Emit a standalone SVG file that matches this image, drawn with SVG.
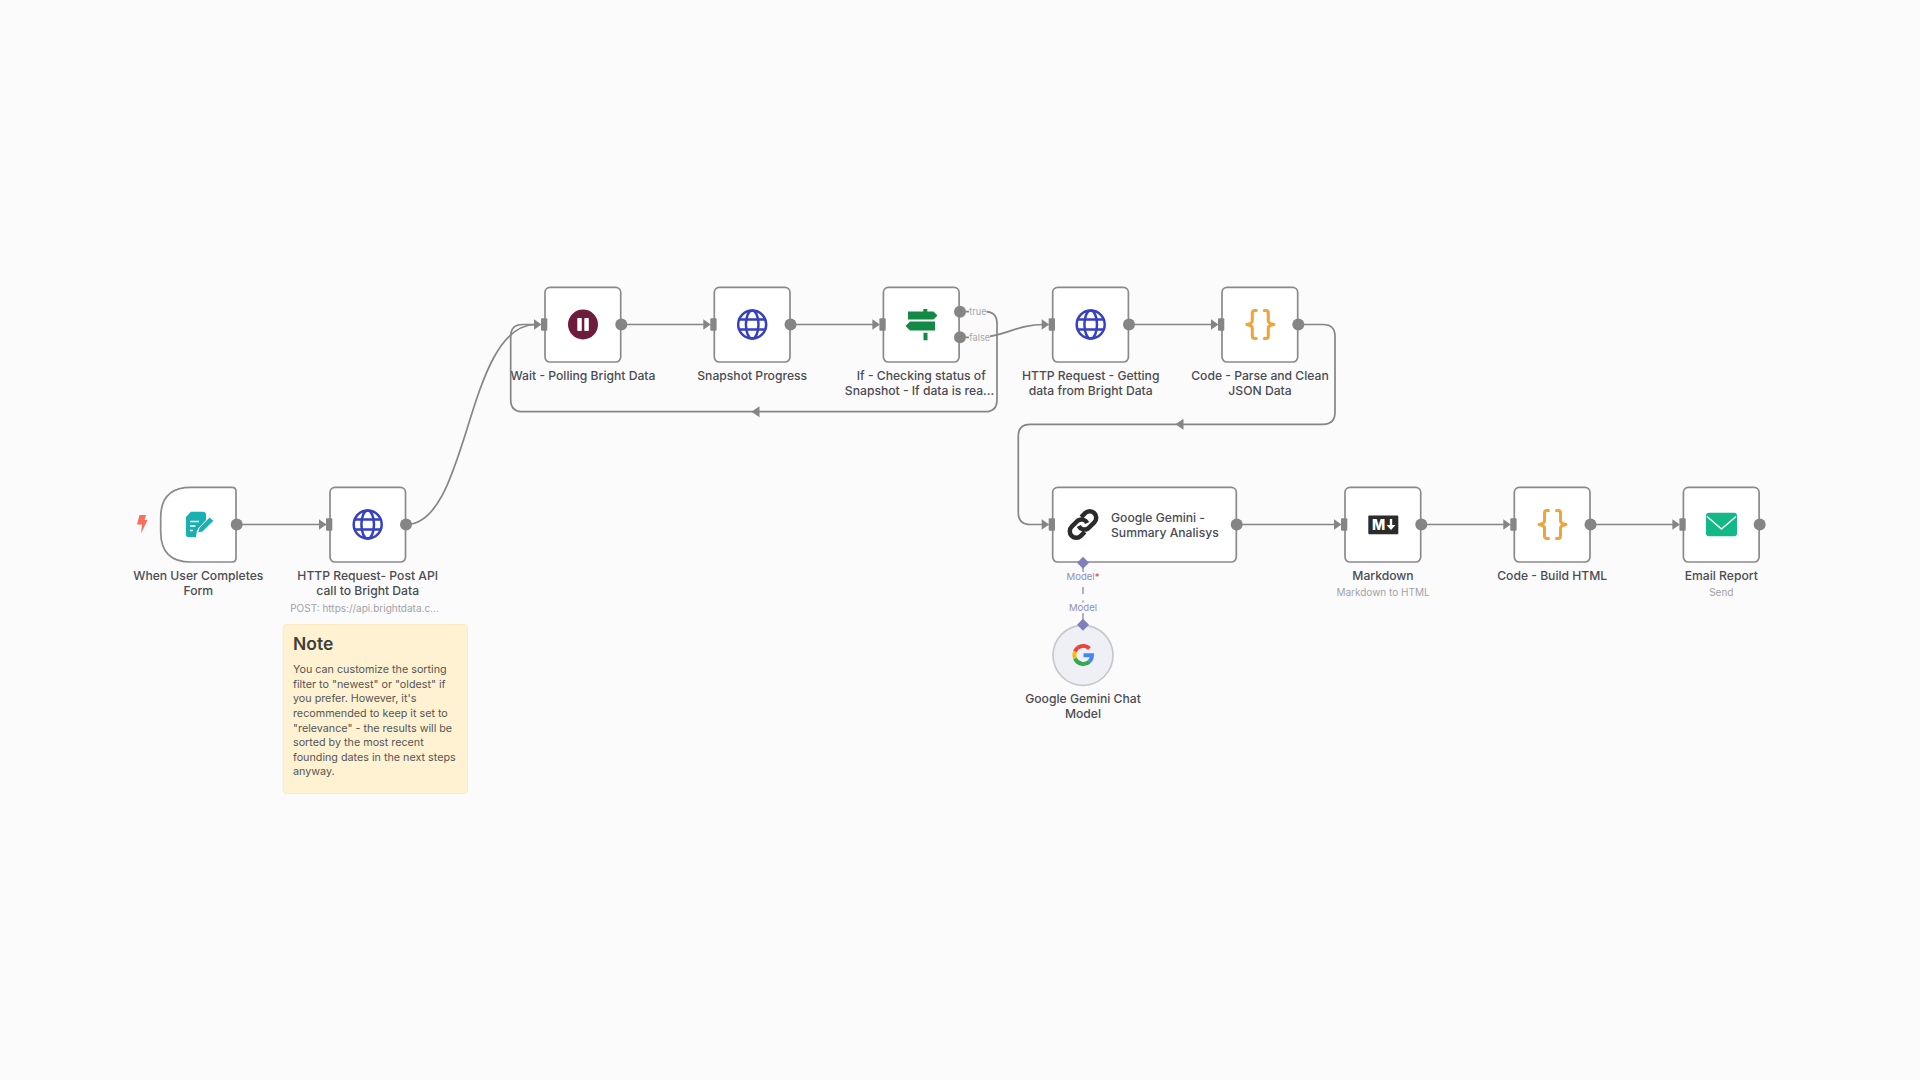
<svg xmlns="http://www.w3.org/2000/svg" xmlns:xlink="http://www.w3.org/1999/xlink" width="1920" height="1080" viewBox="0 0 1920 1080">
<style>
text{font-family:Inter,"Noto Sans","Liberation Sans",sans-serif}
.box{fill:#fff;stroke:#8a8a8a;stroke-width:1.7}
.lbl{font-size:12.15px;font-weight:500;fill:#4b4b53;text-anchor:middle}
.sub{font-size:10px;fill:#a2a2a6;text-anchor:middle}
.note{font-size:10.75px;fill:#555552}
.edge{fill:none;stroke:#858585;stroke-width:1.7}
.tip{fill:#858585}
.port{fill:#858585}
.small{font-size:9.2px;fill:#a5a5a5}
.mod{font-size:9.6px;fill:#8f8fbc;text-anchor:middle}
.globe{fill:none;stroke:#3540c2;stroke-width:2.5}
.brace{fill:none;stroke:#f0a336;stroke-width:3;stroke-linecap:round;stroke-linejoin:round}
</style>
<defs>
<g id="globe" class="globe">
<circle r="14"/><ellipse rx="6.300" ry="14"/><path d="M-13-5H13M-13 5H13"/>
</g>
<g id="braces" class="brace">
<path d="M-4-14H-5.500Q-8-14-8-11.500V-3.500Q-8-1-13.500 0Q-8 1-8 3.500V11.500Q-8 14-5.500 14H-4"/>
<path d="M4-14H5.500Q8-14 8-11.500V-3.500Q8-1 13.500 0Q8 1 8 3.500V11.500Q8 14 5.500 14H4"/>
</g>
<g id="in"><path class="tip" d="M-10.500-5.300L-3 0L-10.500 5.300Z"/><rect class="port" x="-3.500" y="-6.300" width="6.300" height="12.600" rx="1"/></g>
</defs>
<rect width="1920" height="1080" fill="#fbfbfb"/>

<g id="connectors">
<path class="edge" d="M237 524.500H326"/>
<path class="edge" d="M406 524.500C470 524.500 465 324.500 536 324.500"/>
<path class="edge" d="M621 324.500H705"/>
<path class="edge" d="M790 324.500H874"/>
<path class="edge" d="M966 311.700H985Q997 311.700 997 323.700V399.700Q997 411.700 985 411.700H522.700Q510.700 411.700 510.700 399.700V336.500Q510.700 324.500 522.700 324.500H536"/>
<path class="edge" d="M966 337.300H978C1005 337.300 1015 324.500 1044 324.500"/>
<path class="edge" d="M1129 324.500H1213"/>
<path class="edge" d="M1298 324.500H1323Q1335 324.500 1335 336.500V412.300Q1335 424.300 1323 424.300H1030.300Q1018.300 424.300 1018.300 436.300V512.500Q1018.300 524.500 1030.300 524.500H1044"/>
<path class="edge" d="M1237 524.500H1336"/>
<path class="edge" d="M1421 524.500H1505"/>
<path class="edge" d="M1590 524.500H1674"/>
<path class="tip" d="M751.500 411.700L759.500 406.200V417.200Z"/>
<path class="tip" d="M1175.500 424.300L1183.500 418.800V429.800Z"/>
<path d="M1083 566V572M1083 587V594M1083 600.500V602.500M1083 613V620" fill="none" stroke="#8f8fbc" stroke-width="1.400"/>
</g>

<g id="trigger-bolt"><path d="M141 515.500H147.500L146 520.500H149L142.500 534L143.500 525H138.500Z" fill="#fb6e5c" transform="translate(-1.500 -.5)"/></g>

<g id="node-form">
<path class="box" d="M191 487.300H232Q236 487.300 236 491.300V558Q236 562 232 562H191Q160.700 562 160.700 531.700V517.600Q160.700 487.300 191 487.300Z"/>
<path d="M191 511.700H203Q206 511.700 206 514.700V521L197 530.500L196 537H188Q186 537 186 535V517Z" fill="#17b1b4"/>
<path d="M190 521.500H199M190 526H195.500M190 530.500H193" stroke="#fff" stroke-width="1.500" fill="none"/>
<path d="M197.500 533L199 528L209.500 517L213.800 520.800L202.500 532Z" fill="#17b1b4" stroke="#fff" stroke-width="1"/>
<circle class="port" cx="236.700" cy="524.500" r="6"/>
<text class="lbl" x="198.300" y="580">When User Completes</text>
<text class="lbl" x="198.300" y="595">Form</text>
</g>

<g id="node-http-post">
<rect class="box" x="330" y="487.300" width="75.500" height="74.700" rx="5"/>
<use xlink:href="#in" href="#in" x="329.500" y="524.500"/>
<use xlink:href="#globe" href="#globe" x="367.700" y="524.500"/>
<circle class="port" cx="406" cy="524.500" r="6"/>
<text class="lbl" x="367.700" y="580">HTTP Request- Post API</text>
<text class="lbl" x="367.700" y="595">call to Bright Data</text>
<text class="sub" x="364.500" y="612">POST: https://api.brightdata.c...</text>
</g>

<g id="note">
<rect x="283.200" y="624.500" width="184.300" height="169" rx="3" fill="#fef2d3" stroke="#fbeac3" stroke-width="1"/>
<text x="293" y="649.500" font-size="17.500" font-weight="600" fill="#3f3f3c">Note</text>
<text class="note" x="293" y="673">You can customize the sorting</text>
<text class="note" x="293" y="687.700">filter to "newest" or "oldest" if</text>
<text class="note" x="293" y="702.300">you prefer. However, it's</text>
<text class="note" x="293" y="717">recommended to keep it set to</text>
<text class="note" x="293" y="731.700">"relevance" - the results will be</text>
<text class="note" x="293" y="746.300">sorted by the most recent</text>
<text class="note" x="293" y="761">founding dates in the next steps</text>
<text class="note" x="293" y="775">anyway.</text>
</g>

<g id="node-wait">
<rect class="box" x="545" y="287.300" width="75.700" height="74.700" rx="5"/>
<use xlink:href="#in" href="#in" x="544.500" y="324.500"/>
<circle cx="583" cy="324.500" r="15" fill="#6e1c3e"/>
<rect x="577.300" y="318" width="4.500" height="13" rx=".8" fill="#fff"/>
<rect x="584.300" y="318" width="4.500" height="13" rx=".8" fill="#fff"/>
<circle class="port" cx="621.300" cy="324.500" r="6"/>
<text class="lbl" x="583" y="380">Wait - Polling Bright Data</text>
</g>

<g id="node-snapshot">
<rect class="box" x="714.300" y="287.300" width="75.700" height="74.700" rx="5"/>
<use xlink:href="#in" href="#in" x="713.800" y="324.500"/>
<use xlink:href="#globe" href="#globe" x="752.200" y="324.500"/>
<circle class="port" cx="790.500" cy="324.500" r="6"/>
<text class="lbl" x="752.200" y="380">Snapshot Progress</text>
</g>

<g id="node-if">
<rect class="box" x="883.400" y="287.300" width="75.700" height="74.700" rx="5"/>
<use xlink:href="#in" href="#in" x="882.900" y="324.500"/>
<path d="M923.300 309H927.300V311.500H933.500L937.500 315.500L933.500 319.500H908V311.500H923.300Z" fill="#128a46"/>
<path d="M910 321.500H935V330.500H910L905.500 326Z" fill="#128a46"/>
<rect x="923.500" y="332.800" width="4" height="7.500" fill="#128a46"/>
<circle class="port" cx="960" cy="311.700" r="6"/>
<circle class="port" cx="960" cy="337.300" r="6"/>
<rect x="969" y="306" width="17.500" height="12" fill="#fbfbfb"/>
<rect x="969" y="331" width="21" height="12" fill="#fbfbfb"/>
<text class="small" x="969.300" y="315">true</text>
<text class="small" x="969.300" y="341">false</text>
<text class="lbl" x="921.300" y="380">If - Checking status of</text>
<text class="lbl" x="919.500" y="395">Snapshot - If data is rea...</text>
</g>

<g id="node-http-get">
<rect class="box" x="1052.700" y="287.300" width="75.700" height="74.700" rx="5"/>
<use xlink:href="#in" href="#in" x="1052.200" y="324.500"/>
<use xlink:href="#globe" href="#globe" x="1090.700" y="324.500"/>
<circle class="port" cx="1129" cy="324.500" r="6"/>
<text class="lbl" x="1090.700" y="380">HTTP Request - Getting</text>
<text class="lbl" x="1090.700" y="395">data from Bright Data</text>
</g>

<g id="node-code-parse">
<rect class="box" x="1222" y="287.300" width="75.700" height="74.700" rx="5"/>
<use xlink:href="#in" href="#in" x="1221.500" y="324.500"/>
<use xlink:href="#braces" href="#braces" x="1260.300" y="324.500"/>
<circle class="port" cx="1298.300" cy="324.500" r="6"/>
<text class="lbl" x="1260" y="380">Code - Parse and Clean</text>
<text class="lbl" x="1260" y="395">JSON Data</text>
</g>

<g id="node-gemini">
<rect class="box" x="1052.700" y="487.300" width="183.600" height="74.700" rx="5"/>
<use xlink:href="#in" href="#in" x="1052.200" y="524.500"/>
<g transform="translate(1083 524.500) rotate(-45)" fill="none" stroke="#2b2b2b" stroke-width="4.500">
<path d="M-4 6.500H-9.500A6.500 6.500 0 0 1-9.500-6.500H-1A6.500 6.500 0 0 1 4 2"/>
<path d="M4-6.500H9.500A6.500 6.500 0 0 1 9.500 6.500H1A6.500 6.500 0 0 1-4-2"/>
</g>
<circle class="port" cx="1236.700" cy="524.500" r="6"/>
<text class="lbl" x="1111" y="522" style="text-anchor:start">Google Gemini -</text>
<text class="lbl" x="1111" y="537" style="text-anchor:start">Summary Analisys</text>
<path d="M1083 556.700L1089 562.700L1083 568.700L1077 562.700Z" fill="#7f7fbc"/>
<text class="mod" x="1083" y="580">Model<tspan fill="#e0405a">*</tspan></text>
</g>

<g id="node-chat-model">
<circle cx="1083" cy="655.300" r="30" fill="#eff0f6" stroke="#c8c8cc" stroke-width="1.700"/>
<g fill="none" stroke-width="4" transform="translate(1083 655)">
<path d="M6.500-6.500A9 9 0 0 0-5-7.500" stroke="#ea4335"/>
<path d="M-5-7.500A9 9 0 0 0-8 -3.500" stroke="#ea4335"/>
<path d="M-8-3.500A9 9 0 0 0-8 3.500" stroke="#fbbc05"/>
<path d="M-8 3.500A9 9 0 0 0 6.500 6.500" stroke="#34a853"/>
<path d="M6.500 6.500A9 9 0 0 0 9 .2H.5" stroke="#4285f4"/>
</g>
<path d="M1083 618.700L1089 624.700L1083 630.700L1077 624.700Z" fill="#7f7fbc"/>
<text class="mod" x="1083" y="611">Model</text>
<text class="lbl" x="1083" y="702.700">Google Gemini Chat</text>
<text class="lbl" x="1083" y="717.700">Model</text>
</g>

<g id="node-markdown">
<rect class="box" x="1345" y="487.300" width="75.700" height="74.700" rx="5"/>
<use xlink:href="#in" href="#in" x="1344.500" y="524.500"/>
<rect x="1368.300" y="515.500" width="30" height="18.700" rx="1" fill="#2b2b2b"/>
<text x="1378.700" y="530" font-size="14" font-weight="800" fill="#fff" text-anchor="middle">M</text>
<path d="M1391 519V526" fill="none" stroke="#fff" stroke-width="2.400"/>
<path d="M1386.500 525H1395.500L1391 530Z" fill="#fff"/>
<circle class="port" cx="1421.300" cy="524.500" r="6"/>
<text class="lbl" x="1383" y="580">Markdown</text>
<text class="sub" x="1383" y="596">Markdown to HTML</text>
</g>

<g id="node-code-html">
<rect class="box" x="1514.300" y="487.300" width="75.700" height="74.700" rx="5"/>
<use xlink:href="#in" href="#in" x="1513.800" y="524.500"/>
<use xlink:href="#braces" href="#braces" x="1552.500" y="524.500"/>
<circle class="port" cx="1590.500" cy="524.500" r="6"/>
<text class="lbl" x="1552.200" y="580">Code - Build HTML</text>
</g>

<g id="node-email">
<rect class="box" x="1683.400" y="487.300" width="75.700" height="74.700" rx="5"/>
<use xlink:href="#in" href="#in" x="1682.900" y="524.500"/>
<rect x="1706" y="512.800" width="31" height="23.500" rx="3" fill="#12b886"/>
<path d="M1707 516.500L1721.500 529L1736 516.500" fill="none" stroke="#fff" stroke-width="1.500"/>
<circle class="port" cx="1759.700" cy="524.500" r="6"/>
<text class="lbl" x="1721.300" y="580">Email Report</text>
<text class="sub" x="1721.300" y="596">Send</text>
</g>
</svg>
